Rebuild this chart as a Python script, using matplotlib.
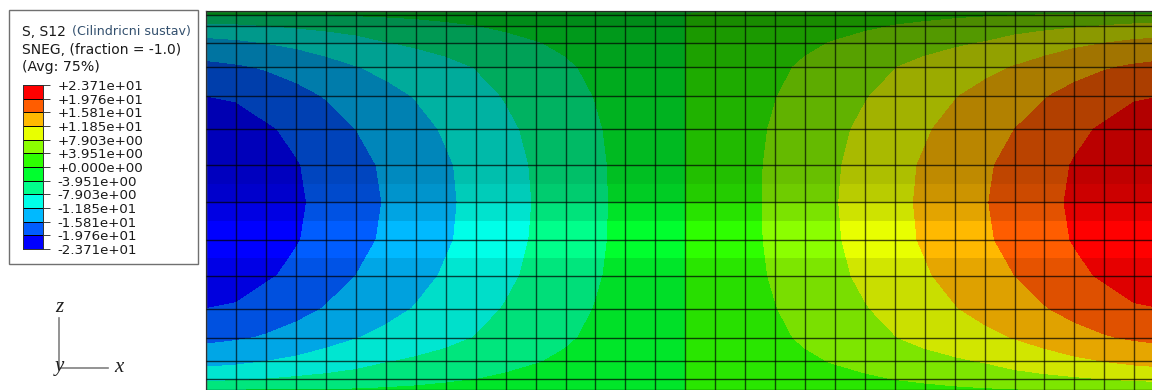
import numpy as np
import matplotlib
matplotlib.use("Agg")
import matplotlib.pyplot as plt
from matplotlib.patches import Rectangle

W, H = 1152, 390

# contour levels and colours, low to high
levels = [-23.71, -19.76, -15.81, -11.85, -7.903, -3.951, 0.0,
          3.951, 7.903, 11.85, 15.81, 19.76, 23.71]
band_colors = ["#0000ff", "#005dff", "#00b9ff", "#00ffe8", "#00ff8b", "#00ff2e",
               "#2eff00", "#8bff00", "#e8ff00", "#ffb900", "#ff5d00", "#ff0000"]
tick_labels = ["-2.371e+01", "-1.976e+01", "-1.581e+01", "-1.185e+01", "-7.903e+00",
               "-3.951e+00", "+0.000e+00", "+3.951e+00", "+7.903e+00", "+1.185e+01",
               "+1.581e+01", "+1.976e+01", "+2.371e+01"]

# S12 at mesh nodes: one row per ring, from the
# middle line up to the top edge, left edge to the centre column
s12_ring0 = [-23.71, -22.9, -21.8, -20.3, -18.73, -17.16, -15.59, -14.0, -12.45, -10.86, -9.3, -7.7, -6.1, -4.6, -3.1, -1.55, 0]
s12_ring1 = [-23.25, -22.5, -21.5, -20.0, -18.4, -16.85, -15.3, -13.75, -12.25, -10.7, -9.1, -7.55, -6.0, -4.55, -3.05, -1.5, 0]
s12_ring2 = [-21.9, -21.2, -20.25, -18.9, -17.35, -15.8, -14.35, -13.0, -11.45, -10.0, -8.6, -7.1, -5.7, -4.3, -2.9, -1.45, 0]
s12_ring3 = [-19.76, -19.44, -18.0, -16.95, -15.6, -14.25, -13.0, -11.65, -10.3, -8.95, -7.7, -6.4, -5.1, -3.85, -2.55, -1.3, 0]
s12_ring4 = [-16.8, -16.25, -15.5, -14.5, -13.2, -12.0, -10.9, -9.9, -8.9, -7.8, -6.7, -5.5, -4.4, -3.3, -2.2, -1.1, 0]
s12_ring5 = [-13.2, -12.7, -11.85, -11.1, -10.2, -9.3, -8.1, -7.4, -6.7, -5.9, -5.0, -4.15, -3.4, -2.6, -1.75, -0.9, 0]
s12_ring6 = [-9.0, -8.6, -7.9, -7.4, -6.9, -6.3, -5.7, -5.1, -4.5, -4.0, -3.4, -2.9, -2.3, -1.8, -1.2, -0.6, 0]
s12_ring7 = [-4.1, -4.05, -4.0, -3.97, -3.95, -3.7, -3.5, -3.27, -3.0, -2.6, -2.3, -1.9, -1.55, -1.15, -0.8, -0.4, 0]
s12_ring8 = [0] * 17

# lighting of the facets: edges in ring numbers (+ up, - down), brightness between
shade_edges = [8, 7, 6, 5, 4, 3, 2, 1, 0.5, 0, -0.5, -1.5, -2, -3, -4, -5, -6, -7, -8]
shade_values = [0.50, 0.55, 0.60, 0.63, 0.67, 0.70, 0.73, 0.75, 0.80, 0.89,
                1.0, 0.90, 0.87, 0.88, 0.90, 0.90, 0.90, 0.90]

legend_lines = ["SNEG, (fraction = -1.0)", "(Avg: 75%)"]

quarter = np.array([s12_ring0, s12_ring1, s12_ring2, s12_ring3, s12_ring4,
                    s12_ring5, s12_ring6, s12_ring7, s12_ring8], dtype=float)
# the field mirrors top/bottom and flips sign left/right
left = np.vstack([quarter[:0:-1], quarter])
field = np.hstack([left, -left[:, -2::-1]])


def ring_y(k):
    return np.sin(np.asarray(k) * np.pi / 16)


x_nodes = np.arange(33)
y_nodes = ring_y(np.arange(-8, 9))

fig = plt.figure(figsize=(W / 100, H / 100), dpi=100)

# cylinder: 29.93 px per element, centre line at y=202.3, radius 191.3 px
x0, top = 206.4, 11.0
ax = fig.add_axes([x0 / W, 0, (W - x0) / W, (H - top) / H])
ax.set_xlim(0, (W - x0) / 29.93)
ax.set_ylim(-(H - 202.3) / 191.3, 1)
ax.contourf(x_nodes, y_nodes, field, levels=levels, colors=band_colors, extend="neither")

for k0, k1, b in zip(shade_edges[:-1], shade_edges[1:], shade_values):
    ax.axhspan(ring_y(k1), ring_y(k0), color="black", alpha=1 - b, lw=0, zorder=2)

ax.vlines(x_nodes, -1, 1, color="black", lw=1.0, alpha=0.65, zorder=3)
ax.hlines(y_nodes, 0, 32, color="black", lw=1.0, alpha=0.7, zorder=3)
ax.set_xticks([])
ax.set_yticks([])
for side in ["right", "bottom"]:
    ax.spines[side].set_visible(False)
for side in ["top", "left"]:
    ax.spines[side].set_color("#8c8c8c")
    ax.spines[side].set_linewidth(1.0)

# overlay in pixel coordinates for the legend box and the triad
ov = fig.add_axes([0, 0, 1, 1], zorder=5)
ov.set_xlim(0, W)
ov.set_ylim(H, 0)
ov.axis("off")
ov.patch.set_alpha(0)
ov.add_patch(Rectangle((8.5, 9.5), 189, 254, fc="white", ec="#707070", lw=1.0))

font = "DejaVu Sans"
ink = "#1a1a1a"
ov.text(22, 32, "S, S12", fontsize=10, family=font, color=ink, va="center")
ov.text(72, 32, "(Cilindricni sustav)", fontsize=9.1, family=font, color="#33506e", va="center")
ov.text(22, 50, legend_lines[0], fontsize=10, family=font, color=ink, va="center")
ov.text(22, 67, legend_lines[1], fontsize=10.2, family=font, color=ink, va="center")

cax = fig.add_axes([22.5 / W, (H - 249) / H, 20.5 / W, 164 / H], zorder=6)
cax.pcolormesh([0, 1], levels, np.arange(12).reshape(-1, 1),
               cmap=matplotlib.colors.ListedColormap(band_colors), vmin=-0.5, vmax=11.5)
cax.hlines(levels, 0, 1, color="black", lw=0.7)
cax.set_xticks([])
cax.set_ylim(levels[0], levels[-1])
cax.yaxis.tick_right()
cax.set_yticks(levels, labels=tick_labels, fontsize=9.65, family=font, color=ink)
cax.tick_params(axis="y", length=5, width=0.7, pad=5.5, color="#404040")
for s in cax.spines.values():
    s.set_linewidth(0.7)
    s.set_color("#303030")

# triad
ov.plot([59, 59], [318, 368], color="#808080", lw=1.2)
ov.plot([59, 108], [368, 368], color="#808080", lw=1.2)
serif = dict(family="Liberation Serif", style="italic", fontsize=15, color="#202020", ha="center", va="center")
ov.text(59.5, 308, "z", **serif)
ov.text(59.5, 367, "y", **serif)
ov.text(119, 368, "x", **serif)

fig.savefig("out.png", dpi=100)
